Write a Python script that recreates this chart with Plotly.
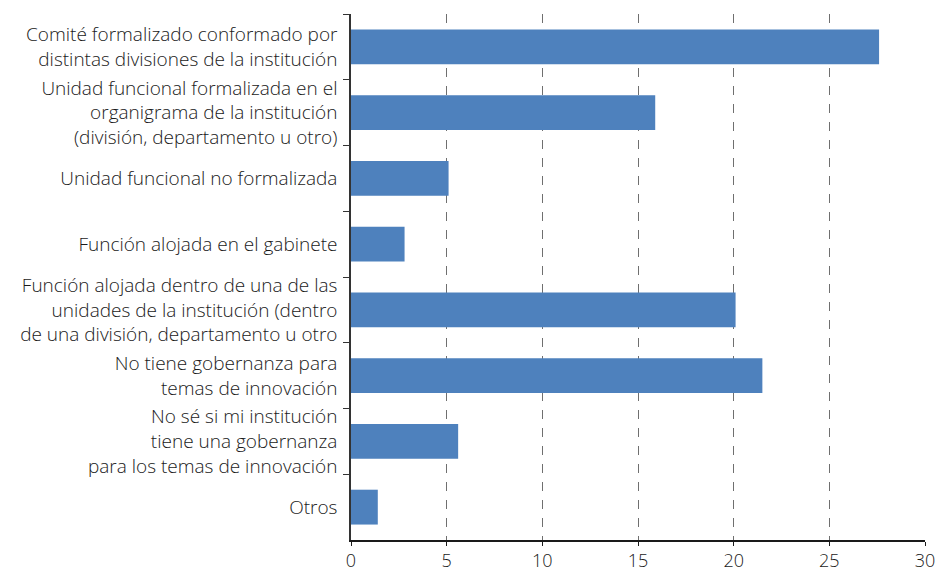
import plotly.graph_objects as go

categories = [
    "Comité formalizado conformado por<br>distintas divisiones de la institución",
    "Unidad funcional formalizada en el<br>organigrama de la institución<br>(división, departamento u otro)",
    "Unidad funcional no formalizada",
    "Función alojada en el gabinete",
    "Función alojada dentro de una de las<br>unidades de la institución (dentro<br>de una división, departamento u otro",
    "No tiene gobernanza para<br>temas de innovación",
    "No sé si mi institución<br>tiene una gobernanza<br>para los temas de innovación",
    "Otros",
]
values = [27.6, 15.9, 5.1, 2.8, 20.1, 21.5, 5.6, 1.4]
x_ticks = [0, 5, 10, 15, 20, 25, 30]

FONT = "Open Sans"
TEXT = "#1a1a1a"

fig = go.Figure(
    go.Bar(
        y=categories,
        x=values,
        orientation="h",
        marker=dict(color="#4e81bd", line=dict(width=0)),
        hoverinfo="x+y",
    )
)

fig.update_layout(
    width=936,
    height=571,
    margin=dict(l=351, r=11, t=14, b=31),
    paper_bgcolor="white",
    plot_bgcolor="white",
    bargap=0.47,
    showlegend=False,
    font=dict(family=FONT, size=19, color=TEXT, weight=300),
)

fig.update_xaxes(
    range=[0, 30],
    tickvals=x_ticks,
    ticktext=[str(v) for v in x_ticks],
    automargin=False,
    ticklabeloverflow="allow",
    showgrid=True,
    gridcolor="#6f6f6f",
    griddash="dash",
    gridwidth=1,
    zeroline=False,
    showline=True,
    linecolor=TEXT,
    linewidth=1.5,
    ticks="outside",
    ticklen=4,
    tickcolor=TEXT,
    tickfont=dict(family=FONT, size=18, color=TEXT, weight=300),
    fixedrange=True,
)

fig.update_yaxes(
    autorange="reversed",
    type="category",
    tickson="boundaries",
    ticks="outside",
    ticklen=6,
    tickcolor="#333333",
    ticklabelstandoff=8,
    automargin=False,
    showline=True,
    linecolor="#333333",
    linewidth=1.5,
    showgrid=False,
    tickfont=dict(family=FONT, size=19, color=TEXT, weight=300),
    fixedrange=True,
)

fig.write_html("out.html")
